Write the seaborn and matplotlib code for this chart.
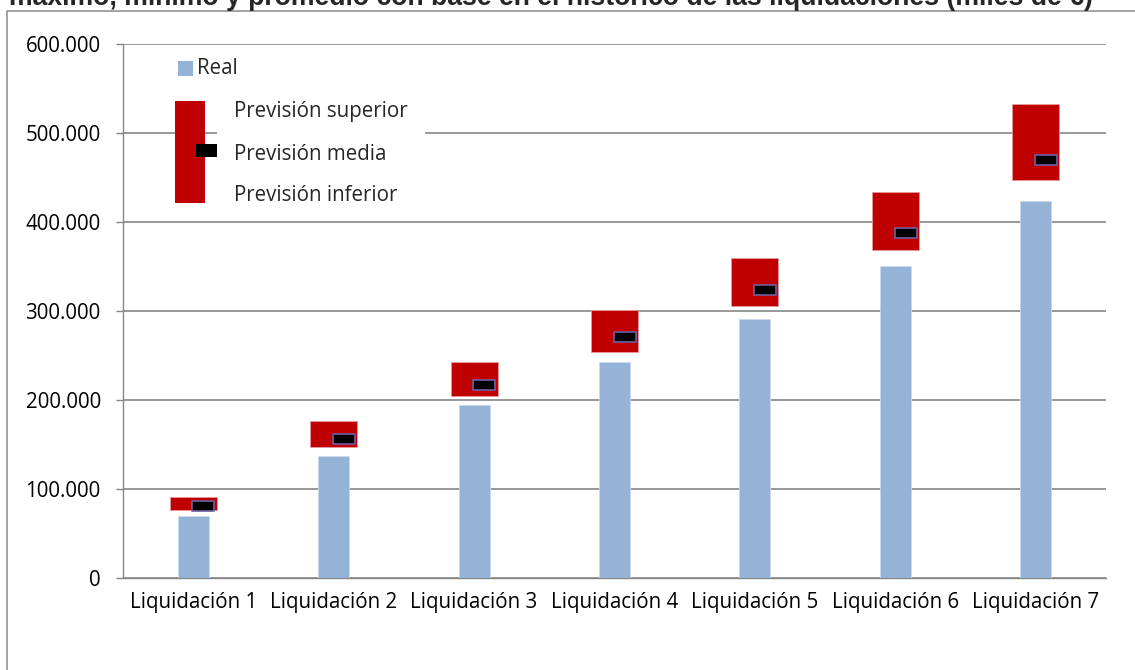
import numpy as np
import matplotlib
matplotlib.use('Agg')
import matplotlib.pyplot as plt
import seaborn as sns
from matplotlib.patches import Rectangle
from matplotlib.path import Path
from matplotlib.ticker import FuncFormatter, FixedLocator

# Data (euros)
categorias = ['Liquidación 1', 'Liquidación 2', 'Liquidación 3', 'Liquidación 4',
              'Liquidación 5', 'Liquidación 6', 'Liquidación 7']
real = [70000, 137000, 194000, 243000, 291000, 351000, 424000]
prev_superior = [91000, 176000, 243000, 301000, 360000, 434000, 533000]
prev_inferior = [76000, 147000, 204000, 254000, 306000, 369000, 447000]
prev_media = [81000, 156000, 217000, 271000, 324000, 388000, 470000]

titulo = 'máximo, mínimo y promedio con base en el histórico de las liquidaciones (miles de €)'

W, H = 1135, 670
AZUL = '#95B3D7'
ROJO = '#C00000'
GRIS = '#868686'
FS = 14.8

sns.set_style('white')
plt.rcParams['font.family'] = ['Open Sans', 'DejaVu Sans']

fig = plt.figure(figsize=(W / 100, H / 100), dpi=100)
ax = fig.add_axes([123 / W, 1 - 578 / H, (1106 - 123) / W, (578 - 44) / H])


def fx(px):
    return px / W


def fy(py):
    return 1 - py / H


# Real bars
sns.barplot(x=categorias, y=real, color=AZUL, saturation=1, width=0.22,
            edgecolor='#C9D8EC', linewidth=0.6, ax=ax, zorder=3)

# Forecast range boxes (inferior -> superior)
pos = np.arange(len(categorias))
alto = np.array(prev_superior) - np.array(prev_inferior)
ax.bar(pos, alto, bottom=prev_inferior, width=0.335, color=ROJO,
       edgecolor='#E79A9A', linewidth=0.6, zorder=4)

# Mean forecast marker (flat rectangle)
rect = Path([(-1, -0.42), (1, -0.42), (1, 0.42), (-1, 0.42), (-1, -0.42)],
            [Path.MOVETO, Path.LINETO, Path.LINETO, Path.LINETO, Path.CLOSEPOLY])
ax.plot(pos + 0.073, prev_media, ls='none', marker=rect, markersize=15.5,
        mfc='black', mec='#6F5FA0', mew=1.2, zorder=5)

# Axes styling
ax.set_xlim(-0.5, len(categorias) - 0.5)
ax.set_ylim(0, 600000)
ax.set_yticks(np.arange(0, 600001, 100000))
ax.yaxis.set_major_formatter(FuncFormatter(lambda v, p: f'{v:,.0f}'.replace(',', '.')))
ax.yaxis.grid(True, color=GRIS, lw=1.2, zorder=0)
ax.xaxis.grid(False)
ax.set_axisbelow(True)
ax.set_xlabel('')
ax.set_ylabel('')
for s in ['top', 'right']:
    ax.spines[s].set_visible(False)
for s in ['left', 'bottom']:
    ax.spines[s].set_color(GRIS)
    ax.spines[s].set_linewidth(1.0)

ax.xaxis.set_minor_locator(FixedLocator(np.arange(-0.5, len(categorias), 1.0)))
ax.tick_params(axis='x', which='major', direction='in', length=4, width=1,
               color=GRIS, labelsize=FS, pad=10, labelcolor='black')
ax.tick_params(axis='x', which='minor', direction='out', length=5, width=1, color=GRIS)
ax.tick_params(axis='y', which='major', direction='out', length=5, width=1,
               color=GRIS, labelsize=FS, pad=11, labelcolor='black')
ax.tick_params(left=True, bottom=True)

# Legend drawn by hand to follow the original layout
fig.add_artist(Rectangle((fx(217), fy(210)), fx(425) - fx(217), fy(95) - fy(210),
                         transform=fig.transFigure, facecolor='white', edgecolor='none', zorder=6))
fig.add_artist(Rectangle((fx(178), fy(76)), fx(15), fy(61) - fy(76),
                         transform=fig.transFigure, facecolor=AZUL, edgecolor='none', zorder=7))
fig.text(fx(197), fy(68), 'Real', fontsize=FS, va='center', ha='left', zorder=7)
fig.add_artist(Rectangle((fx(175), fy(203)), fx(30), fy(101) - fy(203),
                         transform=fig.transFigure, facecolor=ROJO, edgecolor='none', zorder=7))
fig.add_artist(Rectangle((fx(196), fy(157)), fx(21), fy(144) - fy(157),
                         transform=fig.transFigure, facecolor='black', edgecolor='none', zorder=8))
for txt, yy in [('Previsión superior', 112), ('Previsión media', 155), ('Previsión inferior', 195)]:
    fig.text(fx(234), fy(yy), txt, fontsize=FS, va='center', ha='left', zorder=7)

# Chart area border and clipped title
fig.add_artist(Rectangle((fx(7), -0.2), 1.2, fy(11) + 0.2, transform=fig.transFigure,
                         fill=False, edgecolor='#8A8A8A', lw=1.1, zorder=1))
fig.text(fx(551), fy(5), titulo, fontsize=19.2, fontweight='bold', ha='center',
         va='baseline', family=['Liberation Sans', 'DejaVu Sans'])

fig.savefig('out.png', dpi=100, facecolor='white')
